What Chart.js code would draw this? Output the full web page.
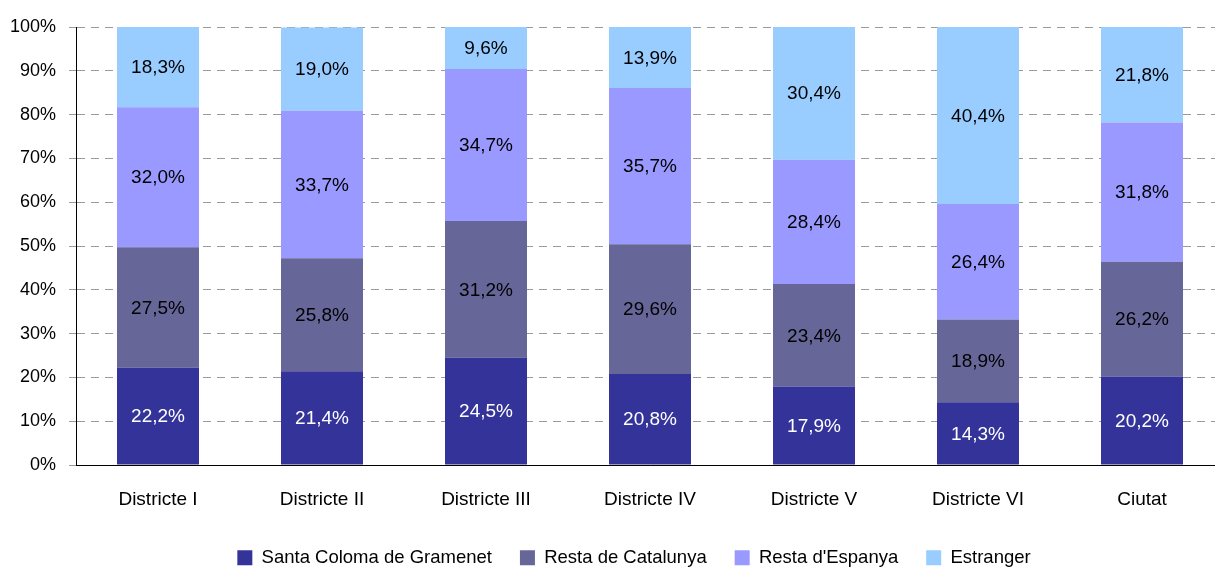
<!DOCTYPE html>
<html>
<head>
<meta charset="utf-8">
<script src="https://cdn.jsdelivr.net/npm/chart.js@4/dist/chart.umd.min.js"></script>
<style>
  html, body { margin: 0; padding: 0; background: #fff; overflow: hidden; }
  #wrap { width: 1224px; height: 570px; }
</style>
</head>
<body>
<div id="wrap"><canvas id="grafica" width="1224" height="570"></canvas></div>
<script>
// Dades: procedència de la població per districte (%)
const districtes = ["Districte I", "Districte II", "Districte III", "Districte IV", "Districte V", "Districte VI", "Ciutat"];
const santaColoma = [22.2, 21.4, 24.5, 20.8, 17.9, 14.3, 20.2];
const restaCatalunya = [27.5, 25.8, 31.2, 29.6, 23.4, 18.9, 26.2];
const restaEspanya = [32.0, 33.7, 34.7, 35.7, 28.4, 26.4, 31.8];
const estranger = [18.3, 19.0, 9.6, 13.9, 30.4, 40.4, 21.8];
const yTicks = [0, 10, 20, 30, 40, 50, 60, 70, 80, 90, 100];

const FONT = "'Liberation Sans', Arial, sans-serif";

// Etiquetes dins de cada segment (sense plugin extern)
const etiquetes = {
    id: "etiquetes",
    afterLayout(chart) {
        // la llegenda de l'original està una mica desplaçada a la dreta
        chart.legend.left += 22;
        chart.legend.right += 22;
    },
    afterDatasetsDraw(chart) {
        const ctx = chart.ctx;
        ctx.save();
        ctx.font = "19px " + FONT;
        ctx.textAlign = "center";
        ctx.textBaseline = "middle";
        chart.data.datasets.forEach((ds, i) => {
            const meta = chart.getDatasetMeta(i);
            meta.data.forEach((bar, j) => {
                const v = ds.data[j];
                ctx.fillStyle = i === 0 ? "#ffffff" : "#000000";
                ctx.fillText(v.toFixed(1).replace(".", ",") + "%", bar.x, (bar.y + bar.base) / 2 + 1);
            });
        });
        ctx.restore();
    }
};

const ctx = document.getElementById("grafica").getContext("2d");
new Chart(ctx, {
    type: "bar",
    data: {
        labels: districtes,
        datasets: [
            { label: "Santa Coloma de Gramenet", data: santaColoma, backgroundColor: "#333399" },
            { label: "Resta de Catalunya", data: restaCatalunya, backgroundColor: "#666699" },
            { label: "Resta d'Espanya", data: restaEspanya, backgroundColor: "#9999ff" },
            { label: "Estranger", data: estranger, backgroundColor: "#99ccff" }
        ]
    },
    options: {
        responsive: false,
        animation: false,
        events: [],
        barPercentage: 0.5,
        categoryPercentage: 1.0,
        layout: { padding: { left: 0, right: 0, top: 27, bottom: -7 } },
        plugins: {
            tooltip: { enabled: false },
            legend: {
                position: "bottom",
                labels: {
                    color: "#000",
                    font: { family: FONT, size: 18.5 },
                    boxWidth: 15,
                    boxHeight: 15,
                    padding: 28
                }
            }
        },
        scales: {
            x: {
                stacked: true,
                grid: { display: false },
                border: { display: true, color: "#000", width: 1 },
                ticks: { color: "#000", font: { family: FONT, size: 19 }, padding: 15, maxRotation: 0 },
                afterFit(scale) { scale.height = 55.5; }
            },
            y: {
                stacked: true,
                min: 0,
                max: 100,
                afterBuildTicks(scale) { scale.ticks = yTicks.map(v => ({ value: v })); },
                grid: {
                    color: c => c.tick && c.tick.value === 0 ? "#000" : "#9a9a9a",
                    lineWidth: 1,
                    tickLength: 7,
                    tickColor: "#9a9a9a"
                },
                border: {
                    display: true,
                    color: "#000",
                    width: 1,
                    dash: c => c.tick && c.tick.value === 0 ? [] : [8, 6]
                },
                ticks: {
                    color: "#000",
                    font: { family: FONT, size: 18 },
                    padding: 13,
                    callback: v => v + "%"
                },
                afterFit(scale) { scale.width = 76; }
            }
        }
    },
    plugins: [etiquetes]
});
</script>
</body>
</html>
